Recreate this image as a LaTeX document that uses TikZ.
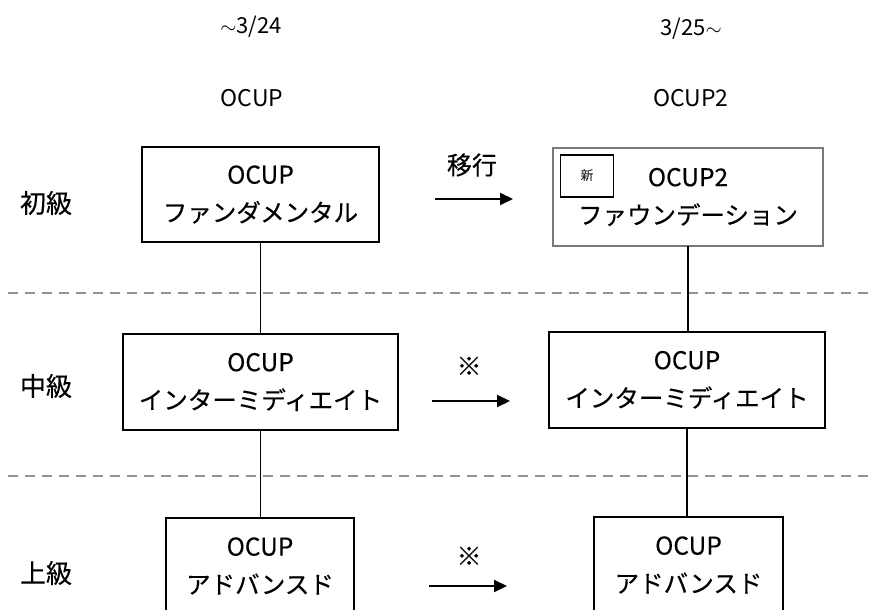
\documentclass[tikz,border=0pt]{standalone}
\usepackage{fontspec}
\setmainfont{Noto Sans CJK JP}
\newfontfamily\jpb{Noto Sans CJK JP}[FakeBold=0.35]
\usetikzlibrary{arrows.meta}
\begin{document}
\begin{tikzpicture}[x=1pt,y=-1pt,
  box/.style={draw=black,line width=2pt,align=center,inner sep=0pt,
    font=\jpb\fontsize{24.5}{38}\selectfont},
  newbox/.style={draw=gray!95!black,line width=2pt,inner sep=0pt},
  tag/.style={draw=black,line width=1.6pt,inner sep=0pt,minimum width=53pt,minimum height=42pt,font=\fontsize{13}{14}\selectfont},
  level/.style={font=\jpb\fontsize{26}{28}\selectfont},
  head/.style={font=\fontsize{23}{26}\selectfont},
  datehead/.style={font=\fontsize{22}{24}\selectfont},
  note/.style={font=\jpb\fontsize{25}{26}\selectfont},
  link/.style={line width=1.5pt},
  migrate/.style={line width=2pt,-{Triangle[length=13pt,width=12pt]}},
  divider/.style={draw=gray!85,line width=2pt,dash pattern=on 10pt off 7pt}]
\clip (0,0) rectangle (871,610);
\fill[white] (0,0) rectangle (871,610);
% headers
\node[datehead] (h1) at (251,27) {$\sim$3/24};
\node[datehead] (h2) at (691,29) {3/25$\sim$};
\node[head] (h3) at (252,98) {OCUP};
\node[head] (h4) at (691,98) {OCUP2};
% level labels
\node[level] (l1) at (46,203) {初級};
\node[level] (l2) at (46,386) {中級};
\node[level] (l3) at (46,573) {上級};
% dividers
\draw[divider] (8,293) -- (871,293);
\draw[divider] (8,476) -- (871,476);
% boxes
\node[box,minimum width=237pt,minimum height=95pt] (b1) at (260.5,194.5) {OCUP\\ファンダメンタル};
\node[box,draw=none,minimum width=268pt,minimum height=96pt] (b2) at (688,197) {OCUP2\\ファウンデーション};
\draw[newbox] (b2.south west) rectangle (b2.north east);
\node[tag] (t2) at (587,176) {新};
\node[box,minimum width=275pt,minimum height=96pt] (b3) at (260.5,382) {OCUP\\インターミディエイト};
\node[box,minimum width=276pt,minimum height=96pt] (b4) at (687,380) {OCUP\\インターミディエイト};
\node[box,minimum width=188pt,minimum height=96pt] (b5) at (260,566) {OCUP\\アドバンスド};
\node[box,minimum width=189pt,minimum height=96pt] (b6) at (688.5,565) {OCUP\\アドバンスド};
% links
\draw[link] (b1.south) -- (b1.south |- b3.north);
\draw[link] (b2.south) -- (b2.south |- b4.north);
\draw[link] (b3.south) -- (b3.south |- b5.north);
\draw[link] (b4.south) -- (b4.south |- b6.north);
% migration arrows
\coordinate (a1s) at (435,199);
\coordinate (a1e) at (513,199);
\coordinate (a2s) at (432,401);
\coordinate (a2e) at (510,401);
\coordinate (a3s) at (429,586);
\coordinate (a3e) at (507,586);
\draw[migrate] (a1s) -- (a1e);
\draw[migrate] (a2s) -- (a2e);
\draw[migrate] (a3s) -- (a3e);
\node[note] (n1) at (472,165) {移行};
\node[note] (n2) at (469,366) {※};
\node[note] (n3) at (469,556) {※};
\end{tikzpicture}
\end{document}
